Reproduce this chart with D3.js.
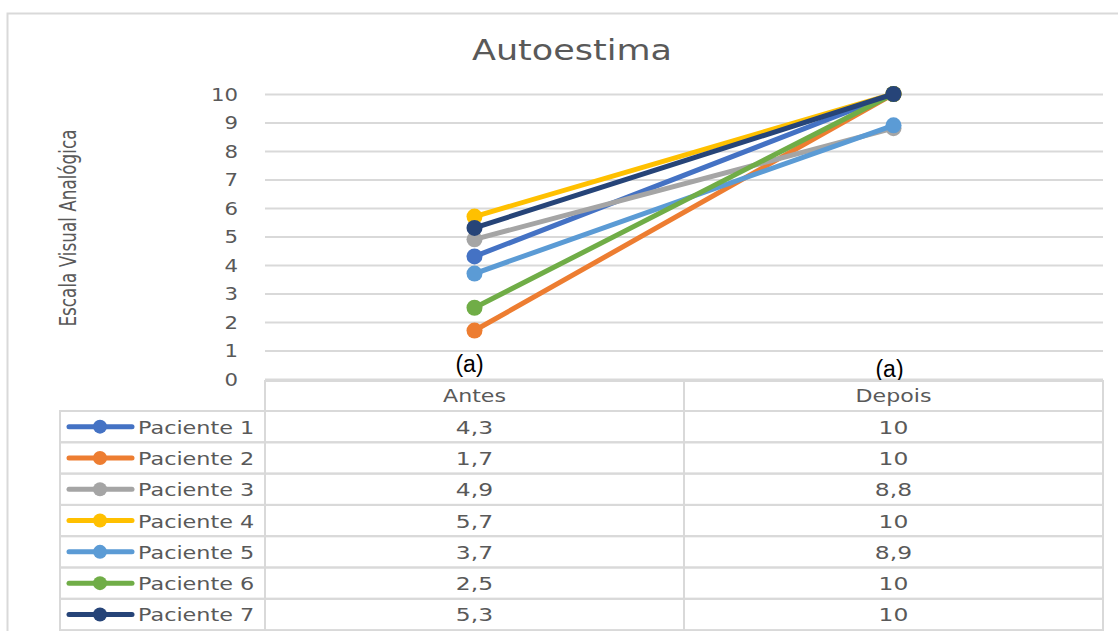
<!DOCTYPE html>
<html>
<head>
<meta charset="utf-8">
<script src="https://cdn.jsdelivr.net/npm/d3@7"></script>
<style>
  body { margin: 0; background: #fff; }
  svg text { font-family: "DejaVu Sans", sans-serif; fill: #595959; }
</style>
</head>
<body>
<div id="chart"></div>
<script>
const categories = ["Antes", "Depois"];
const pacientes = ["Paciente 1", "Paciente 2", "Paciente 3", "Paciente 4", "Paciente 5", "Paciente 6", "Paciente 7"];
const antes = [4.3, 1.7, 4.9, 5.7, 3.7, 2.5, 5.3];
const depois = [10, 10, 8.8, 10, 8.9, 10, 10];
const colors = ["#4472C4", "#ED7D31", "#A5A5A5", "#FFC000", "#5B9BD5", "#70AD47", "#264478"];
const yTicks = [0, 1, 2, 3, 4, 5, 6, 7, 8, 9, 10];

const width = 1118, height = 631;
const margin = ({ top: 94, right: 15, bottom: 252, left: 265 });

// the source picture is a bit wider than tall, so text is stretched sideways
function stretch(sel, f) {
    sel.each(function() {
        const w = this.getComputedTextLength();
        d3.select(this).attr("textLength", w * f).attr("lengthAdjust", "spacingAndGlyphs");
    });
}

const svg = d3.select("#chart").append("svg")
    .attr("width", width)
    .attr("height", height);

// outer chart frame
svg.append("rect")
    .attr("x", 7.5).attr("y", 13.5)
    .attr("width", 1130).attr("height", 640)
    .attr("fill", "none")
    .attr("stroke", "#d9d9d9")
    .attr("stroke-width", 2);

const x = d3.scaleBand(categories, [margin.left, width - margin.right]);
const y = d3.scaleLinear([0, 10], [height - margin.bottom, margin.top]);

svg.append("g")
    .attr("class", "grid")
    .attr("transform", `translate(${margin.left},0)`)
    .call(d3.axisLeft(y).tickValues(yTicks).tickSize(-(width - margin.left - margin.right)).tickFormat(""))
    .call(g => g.select(".domain").remove())
    .call(g => g.selectAll("line").attr("stroke", "#d9d9d9").attr("stroke-width", 2));

svg.append("g")
    .attr("transform", `translate(238,0)`)
    .call(d3.axisLeft(y).tickValues(yTicks).tickSize(0).tickPadding(0))
    .call(g => g.select(".domain").remove())
    .call(g => g.selectAll("text")
        .style("font-size", "18px")
        .style("fill", "#595959")
        .attr("dy", "0.35em"))
    .call(g => stretch(g.selectAll("text"), 1.18));

svg.append("text")
    .attr("x", 572).attr("y", 60)
    .attr("text-anchor", "middle")
    .style("font-size", "28px")
    .text("Autoestima")
    .call(t => stretch(t, 1.25));

svg.append("text")
    .attr("transform", "translate(76,228) rotate(-90)")
    .attr("text-anchor", "middle")
    .attr("textLength", 197)
    .attr("lengthAdjust", "spacingAndGlyphs")
    .style("font-size", "23px")
    .text("Escala Visual Analógica");

const series = pacientes.map((p, i) => ({
    name: p,
    color: colors[i],
    values: [{ cat: "Antes", v: antes[i] }, { cat: "Depois", v: depois[i] }]
}));

const line = d3.line()
    .x(d => x(d.cat) + x.bandwidth() / 2)
    .y(d => y(d.v));

const sg = svg.append("g")
    .selectAll("g")
    .data(series)
    .join("g");

sg.append("path")
    .attr("d", d => line(d.values))
    .attr("fill", "none")
    .attr("stroke", d => d.color)
    .attr("stroke-width", 5)
    .attr("stroke-linecap", "round");

sg.selectAll("circle")
    .data(d => d.values.map(v => ({ ...v, color: d.color })))
    .join("circle")
    .attr("cx", d => x(d.cat) + x.bandwidth() / 2)
    .attr("cy", d => y(d.v))
    .attr("r", 8)
    .attr("fill", d => d.color);

// "(a)" labels
svg.selectAll(".alabel")
    .data(categories)
    .join("text")
    .attr("class", "alabel")
    .attr("x", (d, i) => x(d) + x.bandwidth() / 2 + (i == 0 ? -5 : -4))
    .attr("y", (d, i) => i == 0 ? 372 : 377)
    .attr("text-anchor", "middle")
    .style("font-family", "'Liberation Sans', Arial, sans-serif")
    .style("font-size", "23px")
    .style("fill", "#000")
    .text("(a)");

// data table
const rowH = 31.3, top0 = 381, headH = 30, legLeft = 60;
const tbl = svg.append("g").attr("class", "table");
const gridColor = "#d9d9d9";

tbl.append("rect")
    .attr("x", margin.left).attr("y", top0)
    .attr("width", width - margin.right - margin.left).attr("height", headH)
    .attr("fill", "none").attr("stroke", gridColor).attr("stroke-width", 2);
tbl.append("line")
    .attr("x1", x("Depois")).attr("x2", x("Depois"))
    .attr("y1", top0).attr("y2", height + 10)
    .attr("stroke", gridColor).attr("stroke-width", 2);

tbl.selectAll(".head")
    .data(categories)
    .join("text")
    .attr("x", d => x(d) + x.bandwidth() / 2)
    .attr("y", top0 + headH / 2 + 6)
    .attr("text-anchor", "middle")
    .style("font-size", "17px")
    .text(d => d)
    .call(t => stretch(t, 1.3));

const rows = tbl.selectAll(".row")
    .data(series)
    .join("g")
    .attr("transform", (d, i) => `translate(0,${top0 + headH + i * rowH})`);

rows.append("rect")
    .attr("x", legLeft).attr("y", 0)
    .attr("width", width - margin.right - legLeft).attr("height", rowH)
    .attr("fill", "none").attr("stroke", gridColor).attr("stroke-width", 2);
rows.append("line")
    .attr("x1", margin.left).attr("x2", margin.left)
    .attr("y1", 0).attr("y2", rowH)
    .attr("stroke", gridColor).attr("stroke-width", 2);

rows.append("line")
    .attr("x1", 69).attr("x2", 132)
    .attr("y1", rowH / 2).attr("y2", rowH / 2)
    .attr("stroke", d => d.color)
    .attr("stroke-width", 5)
    .attr("stroke-linecap", "round");
rows.append("circle")
    .attr("cx", 100).attr("cy", rowH / 2)
    .attr("r", 7)
    .attr("fill", d => d.color);
rows.append("text")
    .attr("x", 138).attr("y", rowH / 2 + 7)
    .style("font-size", "18px")
    .text(d => d.name)
    .call(t => stretch(t, 1.24));

rows.selectAll(".val")
    .data(d => d.values)
    .join("text")
    .attr("x", d => x(d.cat) + x.bandwidth() / 2)
    .attr("y", rowH / 2 + 7)
    .attr("text-anchor", "middle")
    .style("font-size", "18px")
    .text(d => String(d.v).replace(".", ","))
    .call(t => stretch(t, 1.3));
</script>
</body>
</html>
